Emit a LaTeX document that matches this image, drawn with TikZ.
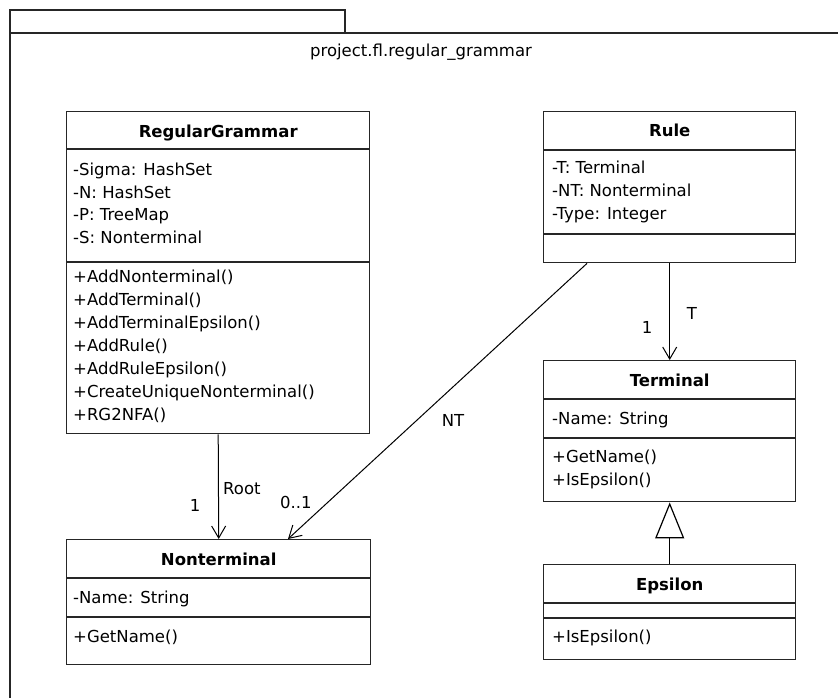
\documentclass[tikz,border=0pt]{standalone}
\usepackage{fontspec}
\setmainfont{DejaVu Sans}
\usetikzlibrary{arrows.meta}

\newcommand\umlfont{\fontsize{16.5}{20}\selectfont}

\tikzset{
  classbox/.style={draw=black!85, line width=1.4pt, anchor=north west, inner sep=0pt},
  compline/.style={draw=black!85, line width=1.4pt},
  classname/.style={anchor=base, font=\umlfont\bfseries, inner sep=0pt},
  member/.style={anchor=base west, inner sep=0pt},
  rolelabel/.style={anchor=base, inner sep=0pt},
  assoc/.style={line width=1pt, -{Straight Barb[length=12pt,width=14pt]}},
  generalize/.style={line width=1.2pt, -{Triangle[open,length=36pt,width=29pt,fill=white]}},
}

\begin{document}
\begin{tikzpicture}[x=1pt, y=-1pt, font=\umlfont]
  \useasboundingbox (0,0) rectangle (838,697);
  % package frame, cut off at the right and at the bottom
  \begin{scope}
    \clip (0,0) rectangle (838,697);
    \draw[line width=1.4pt, black!85] (10,10) rectangle (345,33);
    \draw[line width=1.4pt, black!85] (10,33) rectangle (850,710);
  \end{scope}
  \node[inner sep=0pt, anchor=base] (pkg) at (421,56) {project.fl.regular\_grammar};

  % classes
  \node[classbox, minimum width=303pt, minimum height=322pt] (rg) at (66,111) {};
  \node[classbox, minimum width=252pt, minimum height=151pt] (rule) at (543,111) {};
  \node[classbox, minimum width=252pt, minimum height=141pt] (term) at (543,360) {};
  \node[classbox, minimum width=252pt, minimum height=95pt] (eps) at (543,564) {};
  \node[classbox, minimum width=304pt, minimum height=125pt] (nonterm) at (66,539) {};

  % compartments
  \draw[compline] (rg.west |- 0,149) -- (rg.east |- 0,149);
  \draw[compline] (rg.west |- 0,262) -- (rg.east |- 0,262);
  \draw[compline] (rule.west |- 0,150) -- (rule.east |- 0,150);
  \draw[compline] (rule.west |- 0,234) -- (rule.east |- 0,234);
  \draw[compline] (term.west |- 0,399) -- (term.east |- 0,399);
  \draw[compline] (term.west |- 0,438) -- (term.east |- 0,438);
  \draw[compline] (eps.west |- 0,603) -- (eps.east |- 0,603);
  \draw[compline] (eps.west |- 0,618) -- (eps.east |- 0,618);
  \draw[compline] (nonterm.west |- 0,578) -- (nonterm.east |- 0,578);
  \draw[compline] (nonterm.west |- 0,617) -- (nonterm.east |- 0,617);

  % RegularGrammar
  \node[classname] (rgname) at (rg.north |- 0,137) {RegularGrammar};
  \node[member] (rga1) at (73,175) {-Sigma: HashSet};
  \node[member] (rga2) at (73,198) {-N: HashSet};
  \node[member] (rga3) at (73,220) {-P: TreeMap};
  \node[member] (rga4) at (73,243) {-S: Nonterminal};
  \node[member] (rgm1) at (73,282) {+AddNonterminal()};
  \node[member] (rgm2) at (73,305) {+AddTerminal()};
  \node[member] (rgm3) at (73,328) {+AddTerminalEpsilon()};
  \node[member] (rgm4) at (73,351) {+AddRule()};
  \node[member] (rgm5) at (73,374) {+AddRuleEpsilon()};
  \node[member] (rgm6) at (73,397) {+CreateUniqueNonterminal()};
  \node[member] (rgm7) at (73,420) {+RG2NFA()};

  % Rule
  \node[classname] (rulename) at (rule.north |- 0,136) {Rule};
  \node[member] (rulea1) at (552,173) {-T: Terminal};
  \node[member] (rulea2) at (552,196) {-NT: Nonterminal};
  \node[member] (rulea3) at (552,219) {-Type: Integer};

  % Terminal
  \node[classname] (termname) at (term.north |- 0,386) {Terminal};
  \node[member] (terma1) at (552,424) {-Name: String};
  \node[member] (termm1) at (552,462) {+GetName()};
  \node[member] (termm2) at (552,485) {+IsEpsilon()};

  % Epsilon
  \node[classname] (epsname) at (eps.north |- 0,590) {Epsilon};
  \node[member] (epsm1) at (552,642) {+IsEpsilon()};

  % Nonterminal
  \node[classname] (ntname) at (nonterm.north |- 0,565) {Nonterminal};
  \node[member] (nta1) at (73,603) {-Name: String};
  \node[member] (ntm1) at (73,642) {+GetName()};

  % associations
  \draw[assoc] (rg.south) -- (nonterm.north);
  \draw[assoc] (rule.south -| 587,0) -- (nonterm.north -| 288,0);
  \draw[assoc] (rule.south) -- (term.north);
  \draw[generalize] (eps.north) -- (term.south);

  \node[rolelabel, anchor=base west] (rootlbl) at (223,494) {Root};
  \node[rolelabel] (rootmult) at (195,511) {1};
  \node[rolelabel, anchor=base west] (ntmult) at (280,508) {0..1};
  \node[rolelabel] (ntlbl) at (453,426) {NT};
  \node[rolelabel] (tlbl) at (692,319) {T};
  \node[rolelabel] (tmult) at (647,333) {1};
\end{tikzpicture}
\end{document}
